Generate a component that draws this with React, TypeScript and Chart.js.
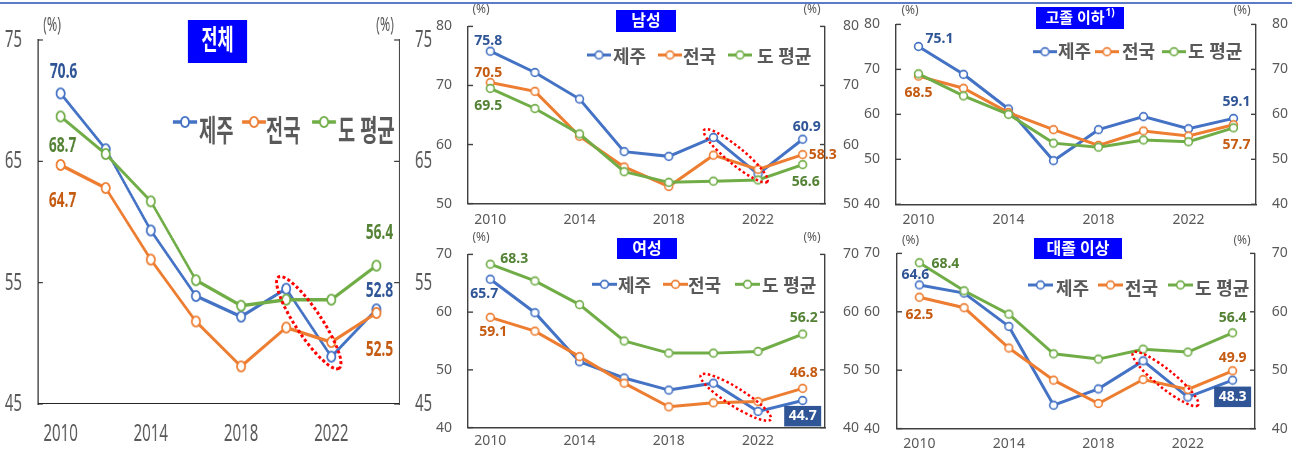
import React, { useEffect, useRef } from 'react';
import { Chart, registerables } from 'chart.js';

Chart.register(...registerables);

// ---------- data ----------
const YEARS = ['2010', '2012', '2014', '2016', '2018', '2020', '2022', '2024'];
const X_TICK_LABELS = ['2010', '2014', '2018', '2022'];
const SERIES_NAMES = ['제주', '전국', '도 평균'];

// 전체
const TOTAL_JEJU = [70.6, 66.0, 59.3, 53.9, 52.2, 54.5, 48.9, 52.8];
const TOTAL_NATION = [64.7, 62.8, 56.9, 51.8, 48.1, 51.3, 50.1, 52.5];
const TOTAL_PROV = [68.7, 65.6, 61.7, 55.2, 53.1, 53.6, 53.6, 56.4];

// 남성
const MALE_JEJU = [75.8, 72.2, 67.7, 58.8, 58.0, 61.2, 55.0, 60.9];
const MALE_NATION = [70.5, 69.0, 61.4, 56.2, 52.9, 58.2, 55.8, 58.3];
const MALE_PROV = [69.5, 66.1, 61.8, 55.4, 53.6, 53.8, 54.0, 56.6];

// 고졸 이하
const HS_JEJU = [75.1, 68.9, 61.2, 49.7, 56.6, 59.5, 56.8, 59.1];
const HS_NATION = [68.5, 65.8, 60.4, 56.6, 53.1, 56.3, 55.2, 57.7];
const HS_PROV = [69.0, 64.1, 60.0, 53.6, 52.7, 54.3, 53.9, 57.0];

// 여성
const FEMALE_JEJU = [65.7, 59.9, 51.4, 48.6, 46.5, 47.7, 42.8, 44.7];
const FEMALE_NATION = [59.1, 56.7, 52.3, 47.7, 43.6, 44.3, 44.5, 46.8];
const FEMALE_PROV = [68.3, 65.4, 61.3, 55.0, 52.9, 52.9, 53.2, 56.2];

// 대졸 이상
const UNI_JEJU = [64.6, 63.2, 57.5, 44.0, 46.8, 51.6, 45.4, 48.3];
const UNI_NATION = [62.5, 60.7, 53.8, 48.3, 44.3, 48.4, 46.7, 49.9];
const UNI_PROV = [68.4, 63.6, 59.6, 52.8, 51.9, 53.6, 53.1, 56.4];

// ---------- styles ----------
const LINE_COLORS = ['#4472C4', '#ED7D31', '#70AD47'];
const LABEL_COLORS = ['#2F5597', '#C55A11', '#548235'];
const FONT = '"Noto Sans", "Noto Sans CJK KR", sans-serif';
const GREY = '#595959';

type LabelSpec = { s: number; i: number; dx: number; dy: number; boxed?: boolean };

const PANELS: any[] = [
  {
    key: 'total', title: '전체', series: [TOTAL_JEJU, TOTAL_NATION, TOTAL_PROV], min: 45, max: 75,
    box: { x: 0, y: 0, w: 440, h: 454 }, sx: 1.6, plot: { l: 38, r: 399, t: 38, b: 404 },
    tickFont: 24, xPad: 15.8, yPadL: 16, yPadR: 16,
    lineW: 3.5, marker: { rx: 5, ry: 6, lw: 1.8 },
    axisColor: '#262626', axisW: 1.1, tickLen: 5,
    titleBox: { x: 188, y: 20, w: 59, h: 43, font: 28 },
    legend: { mx: [173, 242, 312], len: 24, my: 122, tx: [199, 266, 338], ty: 132, font: 30, lw: 3.5 },
    labelFont: 22, boxW: 40, boxH: 24,
    labels: [
      { s: 0, i: 0, dx: 3, dy: -21.5 }, { s: 2, i: 0, dx: 2, dy: 29 }, { s: 1, i: 0, dx: 2, dy: 35.5 },
      { s: 2, i: 7, dx: 3, dy: -33 }, { s: 0, i: 7, dx: 3, dy: -19 }, { s: 1, i: 7, dx: 3, dy: 36.4 },
    ] as LabelSpec[],
    pct: [[52, 25], [385, 25]], pctFont: 20,
    ellipse: { i0: 5, i1: 6, ext: 14, minor: 13, lw: 3, dash: [3, 2.5] },
  },
  {
    key: 'male', title: '남성', series: [MALE_JEJU, MALE_NATION, MALE_PROV], min: 50, max: 80,
    box: { x: 420, y: 0, w: 440, h: 230 }, sx: 1, plot: { l: 468, r: 825, t: 17, b: 204 },
    tickFont: 14, xPad: 7.6, yPadL: 16, yPadR: 18,
    lineW: 3, marker: { rx: 4.7, ry: 4.7, lw: 1.6 },
    axisColor: '#404040', axisW: 1.4, tickLen: 5,
    titleBox: { x: 616, y: 10, w: 60, h: 22, font: 16 },
    legend: { mx: [587, 658, 728], len: 24, my: 55, tx: [613, 683, 757], ty: 57.5, font: 18, lw: 3 },
    labelFont: 14, boxW: 37, boxH: 20.5,
    labels: [
      { s: 0, i: 0, dx: -2, dy: -10.5 }, { s: 1, i: 0, dx: -2, dy: -9 }, { s: 2, i: 0, dx: -2, dy: 18 },
      { s: 0, i: 7, dx: 4, dy: -12 }, { s: 1, i: 7, dx: 20, dy: 0 }, { s: 2, i: 7, dx: 3, dy: 17.5 },
    ] as LabelSpec[],
    pct: [[481, 10], [812, 10]], pctFont: 12,
    ellipse: { i0: 5, i1: 6, ext: 12, minor: 8.5, lw: 2.5, dash: [2.5, 2.5] },
  },
  {
    key: 'hs', title: '고졸 이하', sup: '1)', series: [HS_JEJU, HS_NATION, HS_PROV], min: 40, max: 80,
    box: { x: 850, y: 0, w: 452, h: 230 }, sx: 1, plot: { l: 896, r: 1256, t: 17.7, b: 204.3 },
    tickFont: 14, xPad: 7.3, yPadL: 16, yPadR: 16,
    lineW: 3, marker: { rx: 4.7, ry: 4.7, lw: 1.6 },
    axisColor: '#404040', axisW: 1.4, tickLen: 5,
    titleBox: { x: 1036, y: 7, w: 88, h: 22, font: 15 },
    legend: { mx: [1033, 1095, 1162], len: 24, my: 51.7, tx: [1058, 1122, 1188], ty: 52.5, font: 18, lw: 3 },
    labelFont: 14, boxW: 37, boxH: 20.5,
    labels: [
      { s: 0, i: 0, dx: 21, dy: -7 }, { s: 1, i: 0, dx: 0, dy: 17 },
      { s: 0, i: 7, dx: 3, dy: -16.5 }, { s: 1, i: 7, dx: 3, dy: 20 },
    ] as LabelSpec[],
    pct: [[910, 11], [1242, 11]], pctFont: 12,
    ellipse: null,
  },
  {
    key: 'female', title: '여성', series: [FEMALE_JEJU, FEMALE_NATION, FEMALE_PROV], min: 40, max: 70,
    box: { x: 420, y: 228, w: 440, h: 226 }, sx: 1, plot: { l: 468, r: 825, t: 245, b: 433.3 },
    tickFont: 14, xPad: 5, yPadL: 16, yPadR: 18,
    lineW: 3, marker: { rx: 4.7, ry: 4.7, lw: 1.6 },
    axisColor: '#404040', axisW: 1.4, tickLen: 5,
    titleBox: { x: 617, y: 238, w: 60, h: 21, font: 16 },
    legend: { mx: [592, 663, 735], len: 25, my: 284.3, tx: [618, 688, 762], ty: 286.5, font: 18, lw: 3 },
    labelFont: 14, boxW: 37, boxH: 20.5,
    labels: [
      { s: 2, i: 0, dx: 24, dy: -5 }, { s: 0, i: 0, dx: -6, dy: 15 }, { s: 1, i: 0, dx: 3, dy: 15 },
      { s: 2, i: 7, dx: 1, dy: -16 }, { s: 1, i: 7, dx: 1, dy: -15 }, { s: 0, i: 7, dx: 0, dy: 15.7, boxed: true },
    ] as LabelSpec[],
    pct: [[481, 237.5], [812, 237.5]], pctFont: 12,
    ellipse: { i0: 5, i1: 6, ext: 15, minor: 9, lw: 2.5, dash: [2.5, 2.5] },
  },
  {
    key: 'uni', title: '대졸 이상', series: [UNI_JEJU, UNI_NATION, UNI_PROV], min: 40, max: 70,
    box: { x: 850, y: 228, w: 452, h: 226 }, sx: 1, plot: { l: 897, r: 1255, t: 246, b: 432.3 },
    tickFont: 14, xPad: 6.6, yPadL: 17, yPadR: 16.7,
    lineW: 3, marker: { rx: 4.7, ry: 4.7, lw: 1.6 },
    axisColor: '#404040', axisW: 1.4, tickLen: 5,
    titleBox: { x: 1034, y: 238, w: 88, h: 21, font: 16 },
    legend: { mx: [1028, 1098, 1168], len: 25, my: 285, tx: [1056, 1125, 1195], ty: 290, font: 18, lw: 3 },
    labelFont: 14, boxW: 37, boxH: 20.5,
    labels: [
      { s: 2, i: 0, dx: 26, dy: 1 }, { s: 0, i: 0, dx: -4, dy: -9.5 }, { s: 1, i: 0, dx: 0, dy: 18 },
      { s: 2, i: 7, dx: 0, dy: -14.5 }, { s: 1, i: 7, dx: 0, dy: -12.5 }, { s: 0, i: 7, dx: 0, dy: 16.7, boxed: true },
    ] as LabelSpec[],
    pct: [[910.5, 241], [1242, 241]], pctFont: 12,
    ellipse: { i0: 5, i1: 6, ext: 13, minor: 9, lw: 2.5, dash: [2.5, 2.5] },
  },
];

function makeMarker(color: string, sx: number, rx: number, ry: number, lw: number) {
  const c = document.createElement('canvas');
  const w = Math.ceil((rx + lw) * 2 * sx);
  const h = Math.ceil((ry + lw) * 2);
  c.width = w;
  c.height = h;
  const g = c.getContext('2d')!;
  g.save();
  g.translate(w / 2, h / 2);
  g.scale(sx, 1);
  g.beginPath();
  g.ellipse(0, 0, rx - lw / 2, ry - lw / 2, 0, 0, Math.PI * 2);
  g.fillStyle = '#ffffff';
  g.fill();
  g.lineWidth = lw;
  g.strokeStyle = color;
  g.stroke();
  g.restore();
  return c;
}

function makeDecor(p: any, markers: HTMLCanvasElement[]) {
  return {
    id: 'decor_' + p.key,
    afterDatasetsDraw(chart: any) {
      const ctx = chart.ctx as CanvasRenderingContext2D;
      const sx = p.sx;
      const X = (v: number) => (v - p.box.x) * sx;
      const Y = (v: number) => v - p.box.y;
      const area = chart.chartArea;
      const text = (str: string, x: number, y: number, size: number, color: string, weight = 'normal', align: CanvasTextAlign = 'center') => {
        ctx.font = `${weight} ${size}px ${FONT}`;
        ctx.fillStyle = color;
        ctx.textAlign = align;
        ctx.textBaseline = 'middle';
        ctx.fillText(str, x, y);
      };
      ctx.save();

      // inward tick marks on both value axes
      ctx.strokeStyle = p.axisColor;
      ctx.lineWidth = p.axisW;
      ['y', 'y2'].forEach((id) => {
        const sc = chart.scales[id];
        const left = id === 'y';
        const edge = left ? area.left : area.right;
        sc.ticks.forEach((_: any, i: number) => {
          const yy = sc.getPixelForTick(i);
          ctx.beginPath();
          ctx.moveTo(edge, yy);
          ctx.lineTo(edge + (left ? 1 : -1) * p.tickLen * sx, yy);
          ctx.stroke();
        });
      });

      // red dotted ellipse around Jeju 2020-2022
      if (p.ellipse) {
        const e = p.ellipse;
        const meta = chart.getDatasetMeta(0);
        const a = meta.data[e.i0];
        const b = meta.data[e.i1];
        const ax = a.x / sx, ay = a.y, bx = b.x / sx, by = b.y;
        const cx = (ax + bx) / 2, cy = (ay + by) / 2;
        const ang = Math.atan2(by - ay, bx - ax);
        const R = Math.hypot(bx - ax, by - ay) / 2 + e.ext;
        ctx.save();
        ctx.scale(sx, 1);
        ctx.beginPath();
        ctx.ellipse(cx, cy, R, e.minor, ang, 0, Math.PI * 2);
        ctx.setLineDash(e.dash);
        ctx.lineWidth = e.lw;
        ctx.strokeStyle = '#FF0000';
        ctx.stroke();
        ctx.restore();
      }

      // data labels
      p.labels.forEach((l: LabelSpec) => {
        const pt = chart.getDatasetMeta(l.s).data[l.i];
        const val = p.series[l.s][l.i].toFixed(1);
        const x = pt.x + l.dx * sx;
        const y = pt.y + l.dy;
        if (l.boxed) {
          ctx.fillStyle = LABEL_COLORS[0];
          ctx.fillRect(x - (p.boxW / 2) * sx, y - p.boxH / 2, p.boxW * sx, p.boxH);
          text(val, x, y, p.labelFont, '#ffffff', 'bold');
        } else {
          text(val, x, y, p.labelFont, LABEL_COLORS[l.s], 'bold');
        }
      });

      // title box
      const t = p.titleBox;
      ctx.fillStyle = '#0000FF';
      ctx.fillRect(X(t.x), Y(t.y), t.w * sx, t.h);
      const tcx = X(t.x + t.w / 2);
      const tcy = Y(t.y + t.h / 2);
      if (p.sup) {
        ctx.font = `bold ${t.font}px ${FONT}`;
        const w1 = ctx.measureText(p.title).width;
        const supSize = Math.round(t.font * 0.65);
        ctx.font = `bold ${supSize}px ${FONT}`;
        const w2 = ctx.measureText(p.sup).width;
        const start = tcx - (w1 + w2 + 1) / 2;
        text(p.title, start, tcy + 0.5, t.font, '#ffffff', 'bold', 'left');
        text(p.sup, start + w1 + 1, tcy - t.font * 0.3, supSize, '#ffffff', 'bold', 'left');
      } else {
        text(p.title, tcx, tcy + 0.5, t.font, '#ffffff', 'bold');
      }

      // legend
      const lg = p.legend;
      SERIES_NAMES.forEach((name, k) => {
        const x0 = X(lg.mx[k]);
        const x1 = X(lg.mx[k] + lg.len);
        const yy = Y(lg.my);
        ctx.beginPath();
        ctx.moveTo(x0, yy);
        ctx.lineTo(x1, yy);
        ctx.lineWidth = lg.lw;
        ctx.strokeStyle = LINE_COLORS[k];
        ctx.setLineDash([]);
        ctx.stroke();
        const m = markers[k];
        ctx.drawImage(m, (x0 + x1) / 2 - m.width / 2, yy - m.height / 2);
        text(name, X(lg.tx[k]), Y(lg.ty), lg.font, GREY, 'bold', 'left');
      });

      // unit labels
      p.pct.forEach((q: number[]) => {
        text('(%)', X(q[0]), Y(q[1]), p.pctFont, GREY);
      });

      ctx.restore();
    },
  };
}

function ChartPanel({ p }: { p: any }) {
  const ref = useRef<HTMLCanvasElement>(null);
  useEffect(() => {
    const canvas = ref.current;
    if (!canvas) return;
    const sx = p.sx;
    const markers = LINE_COLORS.map((c) => makeMarker(c, sx, p.marker.rx, p.marker.ry, p.marker.lw));
    const datasets = p.series.map((d: number[], k: number) => ({
      label: SERIES_NAMES[k],
      data: d,
      borderColor: LINE_COLORS[k],
      backgroundColor: '#ffffff',
      borderWidth: p.lineW,
      pointStyle: markers[k],
      pointRadius: 5,
      pointHoverRadius: 5,
      tension: 0,
      fill: false,
      order: 2 - k,
      clip: false,
    }));
    const tickFont = { family: FONT, size: p.tickFont };
    const yScale = (pos: string, w: number, pad: number) => ({
      type: 'linear',
      position: pos,
      min: p.min,
      max: p.max,
      ticks: { stepSize: 10, padding: pad, font: tickFont, color: GREY },
      grid: { display: false, drawTicks: false },
      border: { display: true, color: p.axisColor, width: p.axisW * sx },
      afterFit: (s: any) => {
        s.width = w;
      },
    });
    const chart = new Chart(canvas, {
      type: 'line',
      data: { labels: YEARS, datasets },
      options: {
        responsive: false,
        animation: false,
        devicePixelRatio: 1,
        events: [],
        layout: { padding: { top: p.plot.t - p.box.y, left: 0, right: 0, bottom: 0 } },
        plugins: { legend: { display: false }, title: { display: false }, tooltip: { enabled: false } },
        scales: {
          x: {
            type: 'category',
            offset: true,
            grid: { display: false, drawTicks: false },
            border: { display: true, color: p.axisColor, width: p.axisW },
            ticks: {
              autoSkip: false,
              maxRotation: 0,
              minRotation: 0,
              padding: p.xPad,
              font: tickFont,
              color: GREY,
              callback: (_v: any, i: number) => (X_TICK_LABELS.includes(YEARS[i]) ? YEARS[i] : ''),
            },
            afterFit: (s: any) => {
              s.height = p.box.y + p.box.h - p.plot.b;
            },
          },
          y: yScale('left', (p.plot.l - p.box.x) * sx, p.yPadL * sx),
          y2: yScale('right', (p.box.x + p.box.w - p.plot.r) * sx, p.yPadR * sx),
        },
      } as any,
      plugins: [makeDecor(p, markers)],
    } as any);
    return () => chart.destroy();
  }, [p]);
  return (
    <canvas
      ref={ref}
      width={Math.round(p.box.w * p.sx)}
      height={p.box.h}
      style={{ position: 'absolute', left: p.box.x, top: p.box.y, width: p.box.w, height: p.box.h }}
    />
  );
}

export default function App() {
  return (
    <div style={{ position: 'absolute', left: 0, top: 0, width: 1302, height: 454, background: '#ffffff', overflow: 'hidden' }}>
      <div style={{ position: 'absolute', left: 0, top: 2, width: 1292, height: 2, background: '#5B7BC8' }} />
      {PANELS.map((p) => (
        <ChartPanel key={p.key} p={p} />
      ))}
    </div>
  );
}
